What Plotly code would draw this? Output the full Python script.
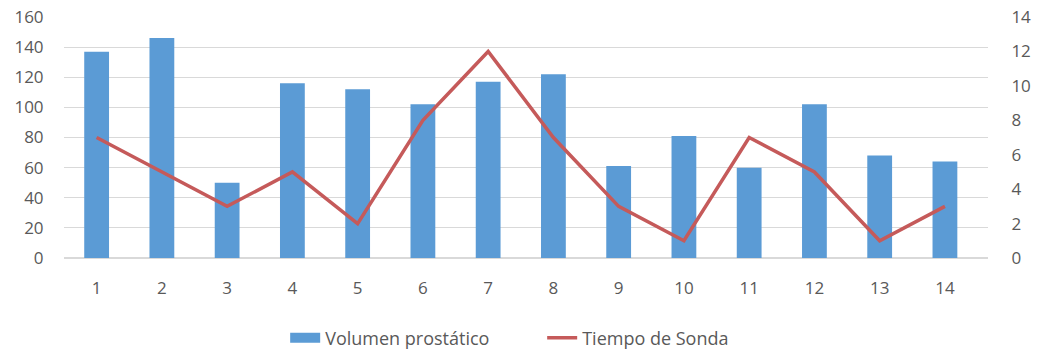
import plotly.graph_objects as go

casos = [str(i) for i in range(1, 15)]
volumen_prostatico = [137, 146, 50, 116, 112, 102, 117, 122, 61, 81, 60, 102, 68, 64]
tiempo_sonda = [7, 5, 3, 5, 2, 8, 12, 7, 3, 1, 7, 5, 1, 3]

left_ticks = [0, 20, 40, 60, 80, 100, 120, 140, 160]
right_ticks = [0, 2, 4, 6, 8, 10, 12, 14]

BLUE = "#5B9BD5"
RED = "#C55A5A"
tick_font = dict(family="Open Sans, Noto Sans, sans-serif", size=17, color="#595959")
legend_font = dict(family="Open Sans, Noto Sans, sans-serif", size=18, color="#595959")

fig = go.Figure()
# bars (legend entry drawn by the wide swatch trace below)
fig.add_trace(go.Bar(
    x=casos, y=volumen_prostatico, name="Volumen prostático",
    marker=dict(color=BLUE, line=dict(width=0)),
    yaxis="y", showlegend=False,
))
# legend swatch for the bar series: a wide flat block
fig.add_trace(go.Scatter(
    x=[None], y=[None], name="Volumen prostático",
    mode="lines", line=dict(color=BLUE, width=11),
    yaxis="y",
))
fig.add_trace(go.Scatter(
    x=casos, y=tiempo_sonda, name="Tiempo de Sonda",
    mode="lines", line=dict(color=RED, width=3.5),
    yaxis="y2",
))

fig.update_layout(
    width=1037, height=354,
    margin=dict(l=64, r=49, t=17, b=96),
    paper_bgcolor="white", plot_bgcolor="white",
    bargap=0.62,
    font=tick_font,
    showlegend=True,
    legend=dict(orientation="h", xref="container", x=0.275, xanchor="left",
                yref="container", y=0.045, yanchor="middle",
                entrywidth=212, font=legend_font, traceorder="normal"),
    xaxis=dict(
        type="category", range=[-0.5, 13.66], automargin=False,
        showgrid=False, showline=False, zeroline=False,
        ticks="outside", ticklen=15, tickcolor="rgba(0,0,0,0)",
        tickfont=tick_font,
    ),
    yaxis=dict(
        range=[0, 160], tickvals=left_ticks, automargin=False,
        showgrid=True, gridcolor="#D9D9D9",
        gridwidth=1, zeroline=True, zerolinecolor="#D9D9D9", showline=False,
        ticks="outside", ticklen=16, tickcolor="rgba(0,0,0,0)",
        tickfont=tick_font,
    ),
    yaxis2=dict(
        range=[0, 14], tickvals=right_ticks, overlaying="y", side="right",
        automargin=False,
        showgrid=False, zeroline=False, showline=False,
        ticks="outside", ticklen=19, tickcolor="rgba(0,0,0,0)",
        tickfont=tick_font,
    ),
)

fig.write_html("out.html")
